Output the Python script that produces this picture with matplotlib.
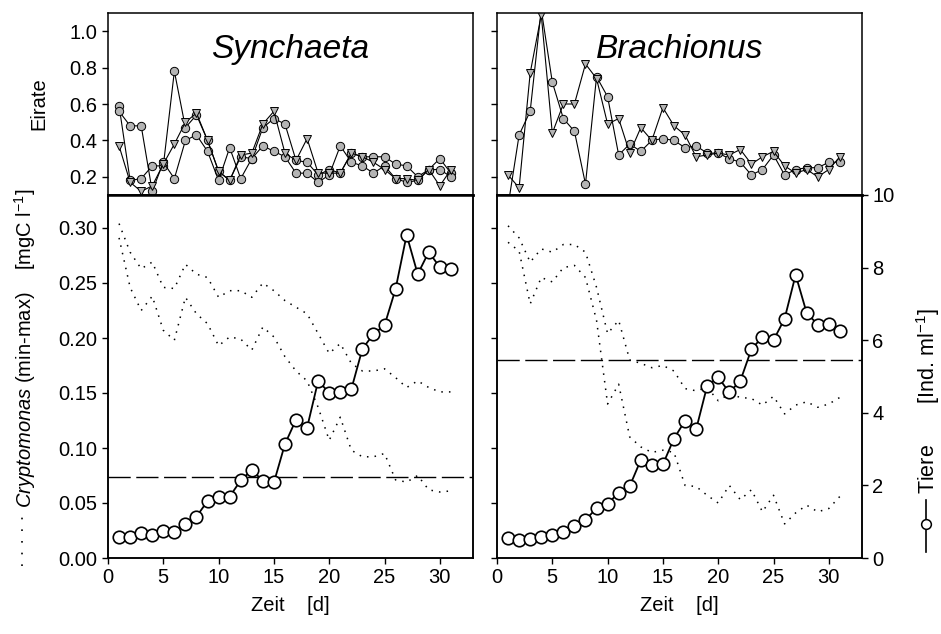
import matplotlib
matplotlib.use("Agg")
import matplotlib.pyplot as plt
from matplotlib.lines import Line2D
import numpy as np

plt.rcParams['font.family'] = ['Liberation Sans', 'DejaVu Sans']
plt.rcParams['mathtext.fontset'] = 'custom'
plt.rcParams['mathtext.rm'] = 'Liberation Sans'
plt.rcParams['mathtext.it'] = 'Liberation Sans:italic'
plt.rcParams['font.size'] = 14

days = np.arange(1, 32)

# Eirate, Synchaeta (two circle series + one triangle series)
syn_circ_a = [0.59, 0.18, 0.19, 0.26, 0.26, 0.78, 0.47, 0.54, 0.40, 0.23, 0.18, 0.31, 0.30, 0.47, 0.52,
              0.49, 0.29, 0.28, 0.21, 0.24, 0.22, 0.33, 0.31, 0.31, 0.31, 0.27, 0.26, 0.20, 0.24, 0.30, 0.22]
syn_circ_b = [0.56, 0.48, 0.48, 0.12, 0.28, 0.19, 0.40, 0.43, 0.34, 0.18, 0.36, 0.19, 0.30, 0.37, 0.34,
              0.31, 0.22, 0.22, 0.17, 0.21, 0.37, 0.28, 0.26, 0.22, 0.26, 0.19, 0.17, 0.18, 0.24, 0.24, 0.20]
syn_tri = [0.37, 0.17, 0.12, 0.15, 0.27, 0.38, 0.50, 0.55, 0.40, 0.23, 0.18, 0.32, 0.33, 0.49, 0.56,
           0.33, 0.29, 0.41, 0.22, 0.22, 0.22, 0.33, 0.31, 0.28, 0.24, 0.19, 0.19, 0.18, 0.24, 0.15, 0.24]

# Eirate, Brachionus
bra_circ = [0.04, 0.43, 0.56, 1.12, 0.72, 0.52, 0.45, 0.16, 0.75, 0.64, 0.32, 0.38, 0.34, 0.40, 0.41,
            0.40, 0.36, 0.37, 0.33, 0.33, 0.30, 0.28, 0.21, 0.24, 0.32, 0.21, 0.24, 0.25, 0.25, 0.28, 0.28]
bra_tri = [0.21, 0.14, 0.77, 1.09, 0.44, 0.60, 0.60, 0.82, 0.74, 0.49, 0.52, 0.33, 0.47, 0.40, 0.58,
           0.48, 0.43, 0.31, 0.32, 0.33, 0.32, 0.35, 0.27, 0.31, 0.34, 0.26, 0.22, 0.24, 0.20, 0.24, 0.31]

# Cryptomonas min / max [mgC l-1]
syn_cry_max = [0.304, 0.278, 0.263, 0.269, 0.246, 0.245, 0.267, 0.258, 0.255, 0.237, 0.243, 0.243, 0.237,
               0.250, 0.243, 0.234, 0.228, 0.222, 0.204, 0.186, 0.195, 0.177, 0.170, 0.170, 0.172, 0.164,
               0.155, 0.161, 0.155, 0.151, 0.151]
syn_cry_min = [0.291, 0.246, 0.225, 0.238, 0.207, 0.198, 0.237, 0.222, 0.213, 0.193, 0.201, 0.199, 0.189,
               0.210, 0.201, 0.183, 0.170, 0.161, 0.137, 0.107, 0.128, 0.098, 0.092, 0.092, 0.095, 0.071,
               0.069, 0.075, 0.062, 0.060, 0.061]
bra_cry_max = [0.302, 0.291, 0.269, 0.281, 0.278, 0.285, 0.285, 0.278, 0.246, 0.204, 0.216, 0.180, 0.177,
               0.173, 0.175, 0.170, 0.154, 0.152, 0.155, 0.143, 0.149, 0.146, 0.145, 0.139, 0.147, 0.131,
               0.139, 0.142, 0.137, 0.140, 0.146]
bra_cry_min = [0.287, 0.279, 0.231, 0.255, 0.251, 0.264, 0.266, 0.255, 0.216, 0.140, 0.158, 0.110, 0.101,
               0.096, 0.098, 0.096, 0.066, 0.065, 0.057, 0.050, 0.066, 0.053, 0.062, 0.042, 0.057, 0.031,
               0.041, 0.048, 0.042, 0.045, 0.056]

# Tiere [Ind. ml-1]
syn_tiere = [0.59, 0.59, 0.70, 0.63, 0.74, 0.72, 0.95, 1.14, 1.57, 1.69, 1.69, 2.14, 2.42, 2.13, 2.08,
             3.14, 3.81, 3.59, 4.88, 4.55, 4.56, 4.65, 5.76, 6.17, 6.41, 7.41, 8.90, 7.82, 8.43, 8.01, 7.96]
bra_tiere = [0.54, 0.50, 0.51, 0.57, 0.62, 0.73, 0.88, 1.05, 1.37, 1.49, 1.80, 1.98, 2.70, 2.55, 2.58,
             3.29, 3.78, 3.54, 4.74, 4.98, 4.56, 4.88, 5.75, 6.09, 6.00, 6.59, 7.80, 6.75, 6.43, 6.46, 6.26]

# dashed reference levels [mgC l-1]
syn_level = 0.074
bra_level = 0.18

W, H = 941, 634
fig = plt.figure(figsize=(W / 100, H / 100), dpi=100)


def box(x0, y_top, y_bot, w=365):
    return [x0 / W, 1 - y_bot / H, w / W, (y_bot - y_top) / H]


ax_tl = fig.add_axes(box(108, 13, 195))
ax_tr = fig.add_axes(box(497, 13, 195))
ax_bl = fig.add_axes(box(108, 195, 558))
ax_br = fig.add_axes(box(497, 195, 558))

gray = '#b4b4b4'
for ax in (ax_tl, ax_tr, ax_bl, ax_br):
    ax.set_xlim(0, 33)
    for s in ax.spines.values():
        s.set_linewidth(1.1)
    ax.tick_params(direction='out', length=4, width=1, labelsize=14.5)

for ax in (ax_tl, ax_tr):
    ax.set_ylim(0.1, 1.1)
    ax.set_yticks([0.2, 0.4, 0.6, 0.8, 1.0])
    ax.tick_params(axis='x', bottom=False, labelbottom=False)
    ax.spines['bottom'].set_linewidth(1.8)
ax_tl.set_yticklabels(['0.2', '0.4', '0.6', '0.8', '1.0'])
ax_tr.tick_params(axis='y', labelleft=False)

for ax in (ax_bl, ax_br):
    ax.set_ylim(0, 0.33)
    ax.set_yticks(np.arange(0, 0.31, 0.05))
    ax.set_xticks(range(0, 31, 5))
    ax.set_xlabel('Zeit    [d]', fontsize=14.5, labelpad=6)
    ax.spines['top'].set_linewidth(1.8)
ax_bl.set_yticklabels([f'{v:.2f}' for v in np.arange(0, 0.31, 0.05)])
ax_br.tick_params(axis='y', labelleft=False)

mk = dict(markersize=6, markeredgecolor='black', markeredgewidth=0.7, color='black', linewidth=0.8)
ax_tl.plot(days, syn_circ_a, marker='o', markerfacecolor=gray, **mk)
ax_tl.plot(days, syn_circ_b, marker='o', markerfacecolor=gray, **mk)
ax_tl.plot(days, syn_tri, marker='v', markerfacecolor=gray, **mk)
ax_tr.plot(days, bra_circ, marker='o', markerfacecolor=gray, **mk)
ax_tr.plot(days, bra_tri, marker='v', markerfacecolor=gray, **mk)

ax_tl.text(0.5, 0.80, 'Synchaeta', transform=ax_tl.transAxes, ha='center', va='center',
           fontsize=24, style='italic')
ax_tr.text(0.5, 0.80, 'Brachionus', transform=ax_tr.transAxes, ha='center', va='center',
           fontsize=24, style='italic')

dot = dict(color='black', linewidth=1.1, linestyle=(0, (1, 4)))
for ax, cmax, cmin, lev in ((ax_bl, syn_cry_max, syn_cry_min, syn_level),
                            (ax_br, bra_cry_max, bra_cry_min, bra_level)):
    ax.plot(days, cmax, **dot)
    ax.plot(days, cmin, **dot)
    ax.axhline(lev, color='black', linewidth=1.0, linestyle=(0, (16, 4)))

for ax, tiere, show in ((ax_bl, syn_tiere, False), (ax_br, bra_tiere, True)):
    tw = ax.twinx()
    tw.set_ylim(0, 10)
    tw.set_xlim(0, 33)
    tw.plot(days, tiere, color='black', linewidth=1.3, marker='o', markersize=9,
            markerfacecolor='white', markeredgecolor='black', markeredgewidth=1.2)
    tw.set_yticks(range(0, 11, 2))
    tw.tick_params(direction='out', length=4, width=1, labelsize=14.5)
    for s in tw.spines.values():
        s.set_linewidth(1.1)
    if not show:
        tw.tick_params(axis='y', right=False, labelright=False)

fig.text(39 / W, 1 - 104 / H, 'Eirate', rotation=90, ha='center', va='center', fontsize=14.5)
fig.text(25 / W, 1 - 508 / H, r'$\mathit{Cryptomonas}$ (min-max)    [mgC l$^{-1}$]',
         rotation=90, ha='center', va='bottom', fontsize=14.5)
fig.add_artist(Line2D([22 / W, 22 / W], [1 - 566 / H, 1 - 516 / H], color='black',
                      linewidth=1.2, linestyle=(0, (1, 6))))

fig.text(928 / W, 1 - 494 / H, r'Tiere       [Ind. ml$^{-1}$]', rotation=90, ha='center',
         va='bottom', fontsize=15.5)
fig.add_artist(Line2D([926 / W, 926 / W], [1 - 552 / H, 1 - 500 / H], color='black', linewidth=1.2))
fig.add_artist(Line2D([926 / W], [1 - 524 / H], color='black', marker='o', markersize=7,
                      markerfacecolor='white', markeredgewidth=1.1))

fig.savefig('out.png', dpi=100)
